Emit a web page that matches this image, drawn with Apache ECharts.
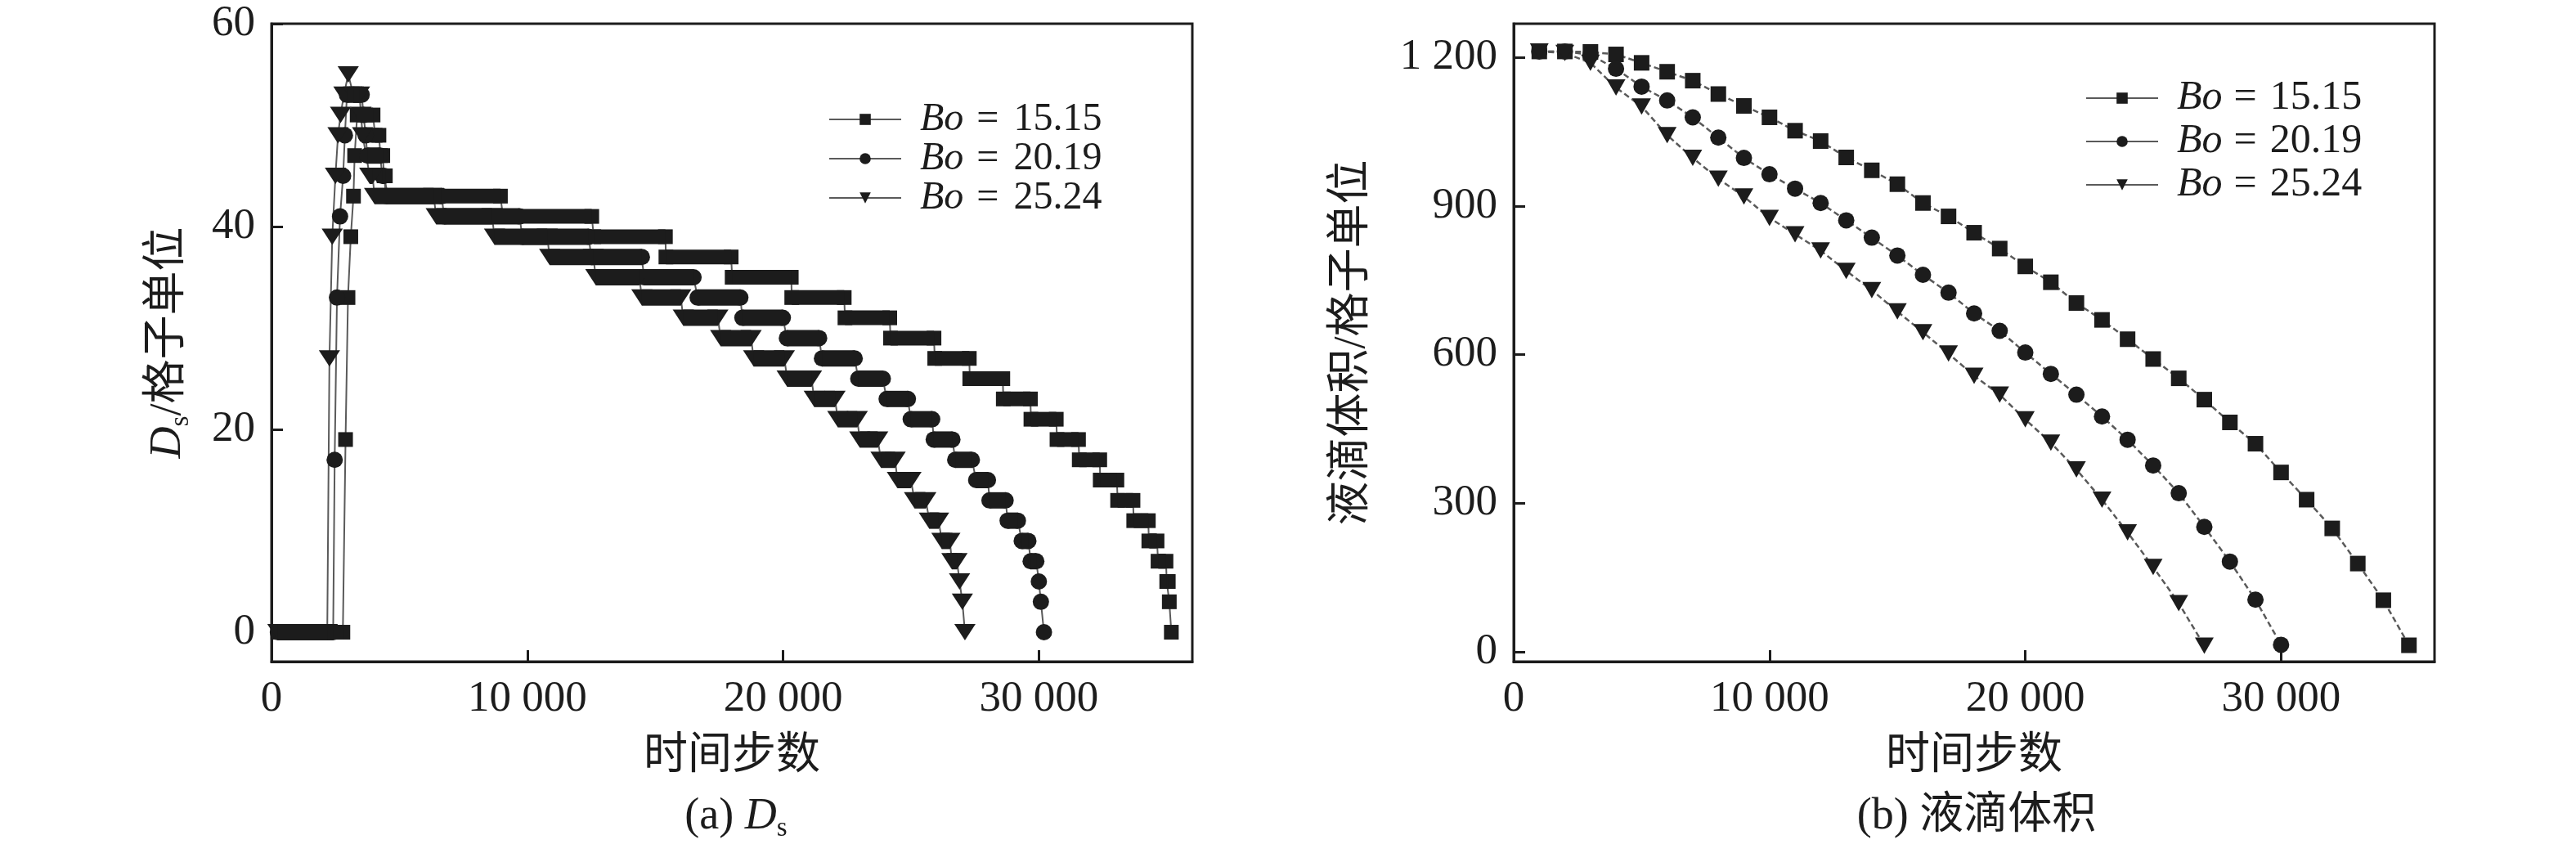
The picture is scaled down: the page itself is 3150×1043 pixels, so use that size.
<!DOCTYPE html>
<html>
<head>
<meta charset="utf-8">
<title>Ds 与液滴体积</title>
<script src="https://cdn.jsdelivr.net/npm/echarts@6/dist/echarts.min.js"></script>
<style>
html, body { margin: 0; padding: 0; background: #fff; }
#main { width: 3150px; height: 1043px; }
</style>
</head>
<body>
<div id="main"></div>
<script>
var boNames = ['Bo = 15.15', 'Bo = 20.19', 'Bo = 25.24'];

// (a) Ds 平台段: [起始步, 结束步, Ds]
var dsSquare = [
  [250, 2790, 0], [2895, 2895, 19], [2990, 2990, 33], [3100, 3100, 39], [3205, 3205, 43],
  [3250, 3250, 47], [3350, 3970, 51], [4050, 4200, 49], [4260, 4350, 47], [4400, 4450, 45],
  [4550, 8950, 43], [9050, 12520, 41], [12600, 15400, 39], [15420, 17970, 37], [18010, 20320, 35],
  [20340, 22390, 33], [22420, 24170, 31], [24200, 25900, 29], [25930, 27280, 27], [27300, 28590, 25],
  [28610, 29670, 23], [29690, 30680, 21], [30710, 31550, 19], [31580, 32380, 17], [32400, 33050, 15],
  [33080, 33680, 13], [33710, 34280, 11], [34300, 34620, 9], [34660, 34970, 7], [35000, 35060, 5],
  [35100, 35100, 3], [35180, 35180, 0]
];
var dsCircle = [
  [250, 2410, 0], [2470, 2470, 17], [2560, 2560, 33], [2680, 2680, 41], [2800, 2800, 45],
  [2870, 2870, 49], [2950, 3525, 53], [3600, 3600, 51], [3680, 3680, 49], [3750, 4250, 47],
  [4330, 4400, 45], [4480, 6650, 43], [6750, 9700, 41], [9800, 12400, 39], [12500, 14480, 37],
  [14560, 16500, 35], [16660, 18330, 33], [18410, 19990, 31], [20150, 21410, 29], [21520, 22800, 27],
  [22940, 23900, 25], [24050, 24880, 23], [24990, 25830, 21], [25890, 26620, 19], [26730, 27380, 17],
  [27550, 28010, 15], [28070, 28700, 13], [28780, 29180, 11], [29330, 29590, 9], [29680, 29900, 7],
  [30000, 30000, 5], [30080, 30080, 3], [30200, 30200, 0]
];
var dsTriangle = [
  [250, 2180, 0], [2265, 2265, 27], [2375, 2375, 39], [2500, 2500, 45], [2600, 2600, 49],
  [2700, 2700, 51], [2830, 2830, 53], [3000, 3000, 55], [3200, 3440, 53], [3500, 3500, 51],
  [3560, 3560, 49], [3840, 3950, 45], [4030, 6340, 43], [6440, 8620, 41], [8720, 10780, 39],
  [10875, 12580, 37], [12680, 14380, 35], [14480, 16000, 33], [16100, 17450, 31], [17560, 18750, 29],
  [18850, 20050, 27], [20160, 21110, 25], [21220, 22030, 23], [22140, 22900, 21], [23000, 23700, 19],
  [23830, 24380, 17], [24470, 25000, 15], [25140, 25580, 13], [25720, 26080, 11], [26210, 26520, 9],
  [26600, 26800, 7], [26900, 26900, 5], [27010, 27010, 3], [27110, 27110, 0]
];

// (b) 液滴体积
var volSteps = [1000, 2000, 3000, 4000, 5000, 6000, 7000, 8000, 9000, 10000, 11000, 12000,
  13000, 14000, 15000, 16000, 17000, 18000, 19000, 20000, 21000, 22000, 23000, 24000,
  25000, 26000, 27000, 28000, 29000, 30000, 31000, 32000, 33000, 34000, 35000];
var volSquare = [1212, 1212, 1211, 1206, 1189, 1171, 1153, 1126, 1102, 1079, 1052, 1031,
  998, 972, 944, 906, 879, 846, 814, 778, 746, 704, 670, 631,
  591, 552, 509, 463, 420, 362, 307, 249, 178, 104, 13];
var volCircle = [1212, 1212, 1205, 1177, 1141, 1113, 1079, 1038, 997, 964, 935, 906,
  871, 836, 800, 761, 725, 683, 648, 604, 561, 519, 475, 428,
  376, 320, 252, 182, 105, 14];
var volTriangle = [1212, 1209, 1189, 1139, 1101, 1043, 997, 955, 919, 876, 843, 810,
  769, 730, 687, 645, 602, 557, 519, 469, 422, 368, 307, 241,
  171, 98, 12];

var xTicks = [0, 10000, 20000, 30000];
var dsTicks = [0, 20, 40, 60];
var volTicks = [0, 300, 600, 900, 1200];

var serif = '"Liberation Serif", "Noto Sans CJK SC", serif';
var ink = '#1c1c1c';
var lineGray = '#5a5a5a';
var marks = [
  { symbol: 'rect', size: 18, h: 18, rotate: 0 },
  { symbol: 'circle', size: 20, h: 20, rotate: 0 },
  { symbol: 'triangle', size: [26, 20], h: 20, rotate: 180 }
];
var volMarks = [
  { symbol: 'rect', size: 19, rotate: 0 },
  { symbol: 'circle', size: 20, rotate: 0 },
  { symbol: 'triangle', size: [23, 20], rotate: 180 }
];

function thousand(v) {
  if (v >= 1000) {
    var s = String(v);
    return s.slice(0, s.length - 3) + ' ' + s.slice(s.length - 3);
  }
  return String(v);
}

function boLabel(name) {
  return '{i|Bo}{eq|=}{n|' + name.split('= ')[1] + '}';
}

function legendRich(fs, padL, eqPad) {
  return {
    i: { fontStyle: 'italic', fontSize: fs, lineHeight: fs, fontFamily: serif, color: ink, padding: [0, 0, 0, padL] },
    eq: { fontSize: fs, lineHeight: fs, fontFamily: serif, color: ink, padding: eqPad },
    n: { fontSize: fs, lineHeight: fs, fontFamily: serif, color: ink }
  };
}

// 平台段：在两个端点符号之间补满
function plateau(h) {
  return function (params, api) {
    var a = api.coord([api.value(0), api.value(2)]);
    var b = api.coord([api.value(1), api.value(2)]);
    return {
      type: 'rect',
      shape: { x: a[0], y: a[1] - h / 2, width: b[0] - a[0], height: h },
      style: { fill: ink }
    };
  };
}

function stepPoints(segs) {
  var pts = [];
  for (var i = 0; i < segs.length; i++) {
    pts.push([segs[i][0], segs[i][2]]);
    if (segs[i][1] > segs[i][0]) pts.push([segs[i][1], segs[i][2]]);
  }
  return pts;
}

function pairs(xs, ys) {
  var out = [];
  for (var i = 0; i < ys.length; i++) out.push([xs[i], ys[i]]);
  return out;
}

var dsSets = [dsSquare, dsCircle, dsTriangle];
var volSets = [volSquare, volCircle, volTriangle];
var series = [];

for (var k = 0; k < 3; k++) {
  series.push({
    type: 'custom',
    name: 'plateau' + k,
    xAxisIndex: 0, yAxisIndex: 0,
    renderItem: plateau(marks[k].h),
    encode: { x: [0, 1], y: 2 },
    data: dsSets[k].filter(function (s) { return s[1] > s[0]; }),
    clip: true,
    z: 3
  });
  series.push({
    type: 'line',
    name: boNames[k],
    xAxisIndex: 0, yAxisIndex: 0,
    data: stepPoints(dsSets[k]),
    symbol: marks[k].symbol,
    symbolSize: marks[k].size,
    symbolRotate: marks[k].rotate,
    showSymbol: true,
    itemStyle: { color: ink },
    lineStyle: { color: lineGray, width: 2 },
    clip: true,
    z: 2
  });
}
for (var k = 0; k < 3; k++) {
  series.push({
    type: 'line',
    name: boNames[k],
    xAxisIndex: 1, yAxisIndex: 1,
    data: pairs(volSteps, volSets[k]),
    symbol: volMarks[k].symbol,
    symbolSize: volMarks[k].size,
    symbolRotate: volMarks[k].rotate,
    itemStyle: { color: ink },
    lineStyle: { color: lineGray, width: 2.5, type: [7, 4] },
    z: 2
  });
}

function xAxis(idx) {
  return {
    gridIndex: idx, type: 'value', min: 0, max: 36000,
    axisLine: { show: true, onZero: false, lineStyle: { color: ink, width: 3 } },
    axisTick: { show: true, inside: true, length: 14, customValues: xTicks, lineStyle: { color: ink, width: 3 } },
    axisLabel: { customValues: xTicks, formatter: thousand, margin: 20, fontSize: 53, fontFamily: serif, color: ink },
    splitLine: { show: false },
    name: '时间步数', nameLocation: 'middle', nameGap: 90,
    nameTextStyle: { fontSize: 54, fontFamily: serif, color: ink }
  };
}

function yAxis(idx, min, max, ticks, name, rich, gap) {
  return {
    gridIndex: idx, type: 'value', min: min, max: max,
    axisLine: { show: true, onZero: false, lineStyle: { color: ink, width: 3 } },
    axisTick: { show: true, inside: true, length: 14, customValues: ticks, lineStyle: { color: ink, width: 3 } },
    axisLabel: { customValues: ticks, formatter: thousand, margin: 20, fontSize: 53, fontFamily: serif, color: ink },
    splitLine: { show: false },
    name: name, nameLocation: 'middle', nameGap: gap, nameRotate: 90,
    nameTextStyle: { fontSize: 54, fontFamily: serif, color: ink, rich: rich }
  };
}

var dsNameRich = {
  d: { fontStyle: 'italic', fontSize: 54, fontFamily: serif, color: ink, lineHeight: 64 },
  s: { fontSize: 33, fontFamily: serif, color: ink, lineHeight: 64, verticalAlign: 'bottom' },
  n: { fontSize: 54, fontFamily: serif, color: ink, lineHeight: 64 }
};

function legend(left, top, fs, gap, padL, eqPad) {
  return {
    left: left, top: top,
    orient: 'vertical', itemWidth: 88, itemHeight: 17, itemGap: gap,
    data: boNames, formatter: boLabel, selectedMode: false,
    textStyle: { fontSize: fs, fontFamily: serif, color: ink, rich: legendRich(fs, padL, eqPad) }
  };
}

var option = {
  backgroundColor: '#fff',
  animation: false,
  title: [
    {
      text: '(a) {d|D}{s|s}', left: 895, top: 963, textAlign: 'center',
      textStyle: {
        fontSize: 54, fontWeight: 'normal', fontFamily: serif, color: ink, lineHeight: 62,
        rich: {
          d: { fontStyle: 'italic', fontSize: 54, fontFamily: serif, color: ink, lineHeight: 62 },
          s: { fontSize: 33, fontFamily: serif, color: ink, lineHeight: 62, verticalAlign: 'bottom' }
        }
      }
    },
    {
      text: '(b) 液滴体积', left: 2412, top: 963, textAlign: 'center',
      textStyle: { fontSize: 54, fontWeight: 'normal', fontFamily: serif, color: ink, lineHeight: 62 }
    }
  ],
  legend: [
    legend(1008, 117, 48, 0, 18, [0, 18, 0, 16]),
    legend(2545, 90, 50, 3, 18, [0, 16, 0, 14])
  ],
  grid: [
    { left: 332, top: 29, width: 1126, height: 780, show: true, borderColor: ink, borderWidth: 3, backgroundColor: 'transparent' },
    { left: 1851, top: 29, width: 1126, height: 780, show: true, borderColor: ink, borderWidth: 3, backgroundColor: 'transparent' }
  ],
  xAxis: [xAxis(0), xAxis(1)],
  yAxis: [
    yAxis(0, -2.9, 60, dsTicks, '{d|D}{s|s}{n|/格子单位}', dsNameRich, 94),
    yAxis(1, -20, 1268, volTicks, '液滴体积/格子单位', null, 170)
  ],
  series: series
};

var chart = echarts.init(document.getElementById('main'), null, { renderer: 'canvas' });
chart.setOption(option);
</script>
</body>
</html>
